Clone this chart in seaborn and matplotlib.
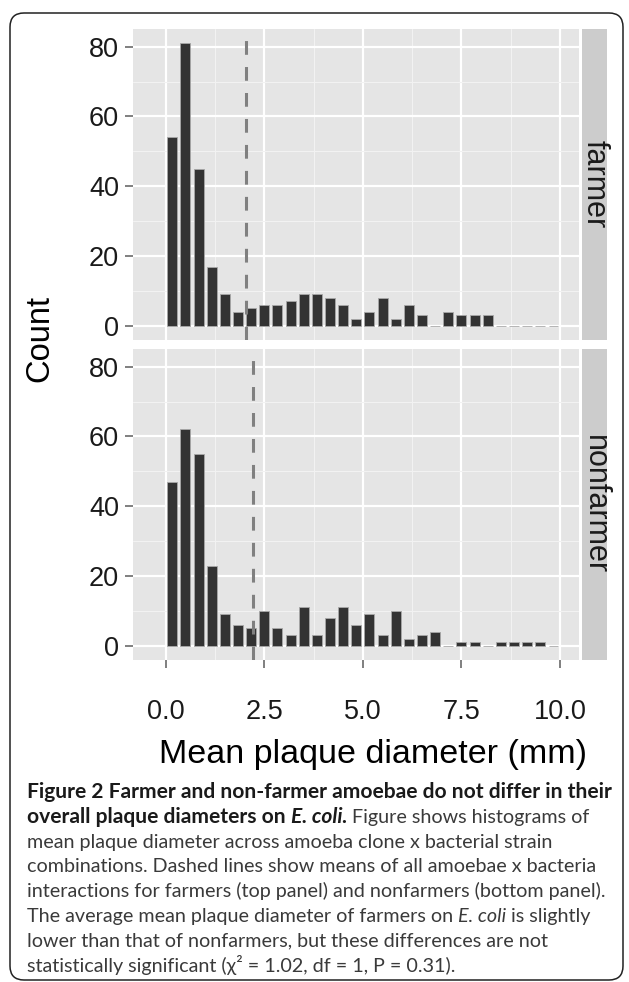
import numpy as np
import pandas as pd
import matplotlib
matplotlib.use("Agg")
import matplotlib.pyplot as plt
import seaborn as sns
from matplotlib.patches import FancyBboxPatch

# ---------------- data ----------------
BIN_WIDTH = 1 / 3
N_BINS = 30
farmer_counts = [54, 81, 45, 17, 9, 4, 5, 6, 6, 7, 9, 9, 8, 6, 2, 4, 8, 2, 6, 3,
                 0, 4, 3, 3, 3, 0, 0, 0, 0, 0]
nonfarmer_counts = [47, 62, 55, 23, 9, 6, 5, 10, 5, 3, 11, 3, 8, 11, 6, 9, 3, 10, 2, 3,
                    4, 0, 1, 1, 0, 1, 1, 1, 1, 0]
group_names = ["farmer", "nonfarmer"]
group_means = [2.03, 2.21]
x_ticks = [0.0, 2.5, 5.0, 7.5, 10.0]
x_ticklabels = ["0.0", "2.5", "5.0", "7.5", "10.0"]
y_ticks = [0, 20, 40, 60, 80]
x_label = "Mean plaque diameter (mm)"
y_label = "Count"

edges = np.arange(N_BINS + 1) * BIN_WIDTH
centers = (edges[:-1] + edges[1:]) / 2
df = pd.concat([
    pd.DataFrame({"group": g, "diameter": centers, "count": c})
    for g, c in zip(group_names, [farmer_counts, nonfarmer_counts])
], ignore_index=True)

# ---------------- figure ----------------
W, H = 629, 982
DPI = 100
sns.set_theme(style="white")
plt.rcParams["font.family"] = ["Liberation Sans", "DejaVu Sans"]
fig = plt.figure(figsize=(W / DPI, H / DPI), dpi=DPI)
fig.patch.set_facecolor("white")


def px_box(left, top, right, bottom):
    return [left / W, 1 - bottom / H, (right - left) / W, (bottom - top) / H]


panel_left, panel_right = 133, 579
panels = [(29, 340), (349, 660)]
ylim = (-4.05, 85.05)
xlim = (-0.83, 10.48)

axes = []
for i, (g, (top, bottom)) in enumerate(zip(group_names, panels)):
    ax = fig.add_axes(px_box(panel_left, top, panel_right, bottom))
    sub = df[df["group"] == g]
    sns.histplot(data=sub, x="diameter", weights="count", bins=N_BINS,
                 binrange=(edges[0], edges[-1]), ax=ax,
                 color="#333333", edgecolor="#a8a8a8", linewidth=0.6,
                 shrink=0.76, alpha=1)
    ax.axvline(group_means[i], color="#808080", lw=2.2, dashes=(4.5, 4.0), zorder=5)
    ax.set_facecolor("#e5e5e5")
    ax.set_xlim(*xlim)
    ax.set_ylim(*ylim)
    ax.set_xticks(x_ticks)
    ax.set_xticks([1.25, 3.75, 6.25, 8.75], minor=True)
    ax.set_yticks(y_ticks)
    ax.set_yticks([10, 30, 50, 70], minor=True)
    ax.grid(which="major", color="white", lw=1.6)
    ax.grid(which="minor", color="#f2f2f2", lw=0.8)
    ax.set_axisbelow(True)
    for s in ax.spines.values():
        s.set_visible(False)
    ax.set_xlabel("")
    ax.set_ylabel("")
    ax.set_yticklabels([str(v) for v in y_ticks], fontsize=19.5, color="#1a1a1a")
    ax.tick_params(axis="y", which="major", length=6, width=1.4, color="#7f7f7f",
                   pad=4, left=True)
    ax.tick_params(which="minor", length=0)
    if i == 0:
        ax.tick_params(axis="x", which="major", length=0, labelbottom=False)
    else:
        ax.set_xticklabels(x_ticklabels, fontsize=19.5, color="#1a1a1a")
        ax.tick_params(axis="x", which="major", length=6, width=1.4,
                       color="#7f7f7f", pad=22, bottom=True)
    # facet strip
    sax = fig.add_axes(px_box(582, top, 607, bottom))
    sax.set_facecolor("#cccccc")
    sax.set_xticks([])
    sax.set_yticks([])
    for s in sax.spines.values():
        s.set_visible(False)
    sax.text(0.5, 0.5, g, rotation=270, ha="center", va="center",
             fontsize=22, color="#1a1a1a", transform=sax.transAxes)
    axes.append(ax)

fig.text(40 / W, 1 - 338 / H, y_label, rotation=90, ha="center", va="center",
         fontsize=23.5, color="black")
fig.text(373 / W, 1 - 754 / H, x_label, ha="center", va="center",
         fontsize=24.5, color="black")

# ---------------- caption ----------------
cap_fam = ["Lato", "DejaVu Sans"]
REG, BOLD = "#3a3a3a", "#1a1a1a"
caption = [
    [("Figure 2 Farmer and non-farmer amoebae do not differ in their", "bold", "normal", BOLD)],
    [("overall plaque diameters on ", "bold", "normal", BOLD),
     ("E. coli.", "bold", "italic", BOLD),
     (" Figure shows histograms of", "normal", "normal", REG)],
    [("mean plaque diameter across amoeba clone x bacterial strain", "normal", "normal", REG)],
    [("combinations. Dashed lines show means of all amoebae x bacteria", "normal", "normal", REG)],
    [("interactions for farmers (top panel) and nonfarmers (bottom panel).", "normal", "normal", REG)],
    [("The average mean plaque diameter of farmers on ", "normal", "normal", REG),
     ("E. coli", "normal", "italic", REG),
     (" is slightly", "normal", "normal", REG)],
    [("lower than that of nonfarmers, but these differences are not", "normal", "normal", REG)],
    [("statistically significant (χ² = 1.02, df = 1, P = 0.31).", "normal", "normal", REG)],
]

renderer = fig.canvas.get_renderer()


def width_at(txt, wt, fs=14):
    p = fig.text(0, 0, txt, fontsize=fs, fontweight=wt, family=cap_fam)
    w = p.get_window_extent(renderer).width
    p.remove()
    return w


fs_bold = 14 * 587 / width_at(caption[0][0][0], "bold")
fs_reg = 14 * 581 / width_at(caption[4][0][0], "normal")
x0 = 27
base0 = 798
step = 24.8
for li, segs in enumerate(caption):
    x = x0
    y = base0 + li * step
    for txt, wt, st, col in segs:
        fs = fs_bold if wt == "bold" else fs_reg
        t = fig.text(x / W, 1 - y / H, txt, fontsize=fs, fontweight=wt,
                     fontstyle=st, family=cap_fam, color=col, ha="left", va="baseline")
        x += t.get_window_extent(renderer).width

# rounded border
border = FancyBboxPatch((0.10, 0.02), 6.13, 9.67,
                        boxstyle="round,pad=0,rounding_size=0.14",
                        transform=fig.dpi_scale_trans, fill=False,
                        edgecolor="#222222", lw=1.1)
fig.patches.append(border)

fig.savefig("out.png", dpi=DPI, facecolor="white")
